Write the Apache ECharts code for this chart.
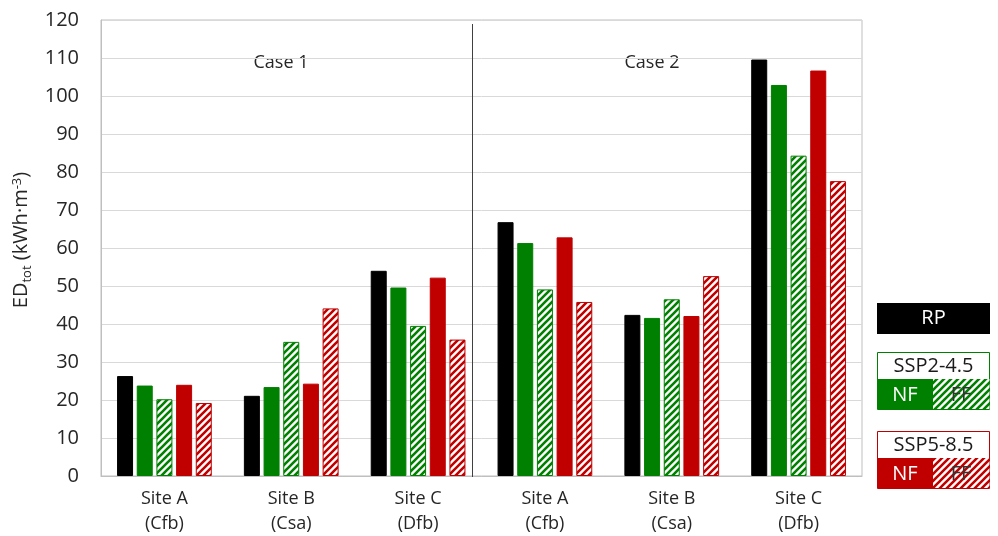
<!DOCTYPE html>
<html>
<head>
<meta charset="utf-8">
<script src="https://cdn.jsdelivr.net/npm/echarts@6/dist/echarts.min.js"></script>
<style>
  html, body { margin: 0; padding: 0; background: #fff; }
  #chart { width: 998px; height: 536px; }
</style>
</head>
<body>
<div id="chart"></div>
<script>
// Sites (climate class) for Case 1 and Case 2
const categories = ['Site A\n(Cfb)', 'Site B\n(Csa)', 'Site C\n(Dfb)', 'Site A\n(Cfb)', 'Site B\n(Csa)', 'Site C\n(Dfb)'];
const caseLabels = ['Case 1', 'Case 2'];

// Total energy demand, kWh·m-3
const rp       = [26.3, 21.1, 54.0, 66.8, 42.4, 109.6];
const ssp245NF = [23.8, 23.4, 49.6, 61.3, 41.6, 102.9];
const ssp245FF = [20.2, 35.3, 39.5, 49.1, 46.5, 84.3];
const ssp585NF = [24.0, 24.3, 52.2, 62.8, 42.1, 106.7];
const ssp585FF = [19.2, 44.1, 35.9, 45.8, 52.6, 77.6];

const yTicks = { min: 0, max: 120, step: 10 };

const BLACK = '#000000';
const GREEN = '#008000';
const RED = '#c00000';
const FONT = '"Open Sans", "Noto Sans", sans-serif';
const TEXT = '#262626';

// Diagonal "/" hatch tile
function hatch(color) {
  const s = 7;
  const c = document.createElement('canvas');
  c.width = s; c.height = s;
  const g = c.getContext('2d');
  g.fillStyle = '#fff';
  g.fillRect(0, 0, s, s);
  g.strokeStyle = color;
  g.lineWidth = 2.6;
  g.beginPath();
  g.moveTo(-1, s + 1); g.lineTo(s + 1, -1);
  g.moveTo(-1 - s, s + 1); g.lineTo(1, -1);
  g.moveTo(s - 1, s + 1); g.lineTo(s + s + 1, -1);
  g.stroke();
  return { image: c, repeat: 'repeat' };
}

function barSeries(name, data, fill, border) {
  return {
    name, type: 'bar', data,
    barWidth: 16, barGap: '23%',
    itemStyle: { color: fill, borderColor: border, borderWidth: 1 },
    emphasis: { disabled: true }
  };
}

const chart = echarts.init(document.getElementById('chart'), null, { renderer: 'canvas' });

// Legend blocks drawn as shapes
function legendBox(y, label, color) {
  return [
    { type: 'rect', shape: { x: 877.5, y: y + 0.5, width: 112, height: 57 },
      style: { fill: '#fff', stroke: color, lineWidth: 1 } },
    { type: 'text', x: 933.5, y: y + 14, style: { text: label, fill: '#1a1a1a', font: '20px ' + FONT, align: 'center', verticalAlign: 'middle' } },
    { type: 'rect', shape: { x: 878, y: y + 27, width: 55, height: 30 }, style: { fill: color } },
    { type: 'rect', shape: { x: 933, y: y + 27, width: 56.5, height: 30 }, style: { fill: hatch(color) } },
    { type: 'text', x: 905, y: y + 43, style: { text: 'NF', fill: '#fff', font: '20px ' + FONT, align: 'center', verticalAlign: 'middle' } },
    { type: 'text', x: 961, y: y + 43, style: { text: 'FF', fill: '#333', font: '20px ' + FONT, align: 'center', verticalAlign: 'middle' } }
  ];
}

const option = {
  backgroundColor: '#fff',
  animation: false,
  grid: { left: 101, right: 136, top: 20, bottom: 59, show: true, borderColor: '#bfbfbf', borderWidth: 1, containLabel: false },
  xAxis: {
    type: 'category',
    data: categories,
    axisLine: { show: true, lineStyle: { color: '#bfbfbf' } },
    axisTick: { show: false },
    axisLabel: { color: TEXT, fontFamily: FONT, fontSize: 18, lineHeight: 25, margin: 10, interval: 0 }
  },
  yAxis: {
    type: 'value',
    min: yTicks.min, max: yTicks.max, interval: yTicks.step,
    axisLine: { show: true, lineStyle: { color: '#bfbfbf' } },
    axisTick: { show: false },
    splitLine: { lineStyle: { color: '#d9d9d9', width: 1 } },
    axisLabel: { color: TEXT, fontFamily: FONT, fontSize: 20, margin: 22 },
    name: '{a|ED}{b|tot}{a| (kWh·m}{c|-3}{a|)}',
    nameLocation: 'middle',
    nameRotate: 90,
    nameGap: 66,
    nameTextStyle: {
      padding: [0, 0, 0, 16],
      rich: {
        a: { fontFamily: FONT, fontSize: 20, color: TEXT },
        b: { fontFamily: FONT, fontSize: 13, color: TEXT, padding: [11, 0, 0, 0] },
        c: { fontFamily: FONT, fontSize: 13, color: TEXT, padding: [0, 0, 9, 0] }
      }
    }
  },
  series: [
    barSeries('RP', rp, BLACK, BLACK),
    barSeries('SSP2-4.5 NF', ssp245NF, GREEN, GREEN),
    barSeries('SSP2-4.5 FF', ssp245FF, hatch(GREEN), GREEN),
    barSeries('SSP5-8.5 NF', ssp585NF, RED, RED),
    barSeries('SSP5-8.5 FF', ssp585FF, hatch(RED), RED)
  ],
  graphic: [
    { type: 'line', shape: { x1: 472.5, y1: 24, x2: 472.5, y2: 477 }, style: { stroke: '#404040', lineWidth: 1 }, z: 10 },
    { type: 'text', x: 281, y: 63, style: { text: caseLabels[0], fill: TEXT, font: '18px ' + FONT, align: 'center', verticalAlign: 'middle' } },
    { type: 'text', x: 652, y: 63, style: { text: caseLabels[1], fill: TEXT, font: '18px ' + FONT, align: 'center', verticalAlign: 'middle' } },
    { type: 'rect', shape: { x: 877, y: 303, width: 113, height: 31 }, style: { fill: BLACK } },
    { type: 'text', x: 933.5, y: 318.5, style: { text: 'RP', fill: '#fff', font: '20px ' + FONT, align: 'center', verticalAlign: 'middle' } },
    ...legendBox(352, 'SSP2-4.5', GREEN),
    ...legendBox(431, 'SSP5-8.5', RED)
  ]
};

chart.setOption(option);
</script>
</body>
</html>
